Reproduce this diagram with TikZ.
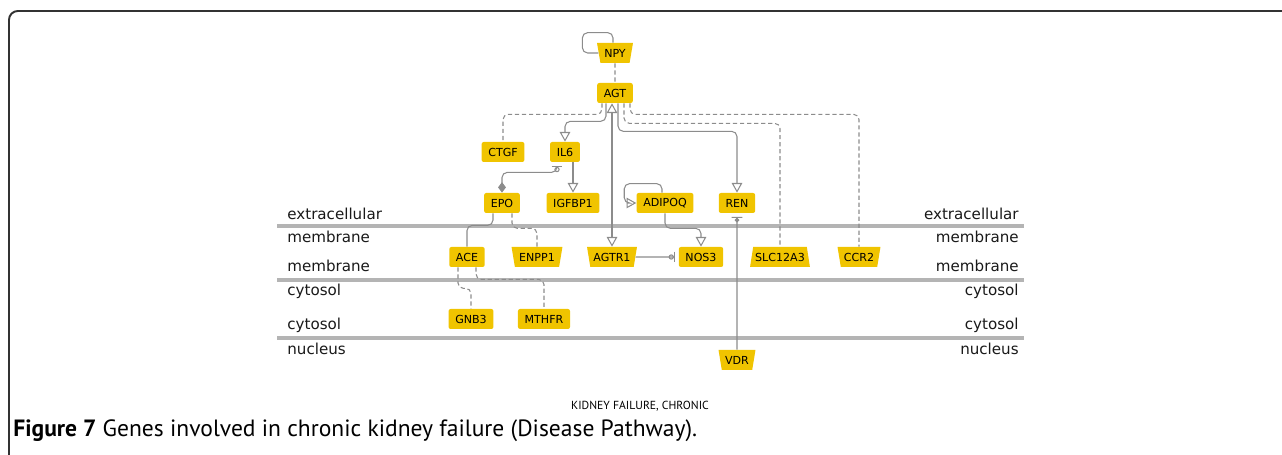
\documentclass[tikz,border=0pt]{standalone}
\usepackage{fontspec}
\setmainfont{DejaVu Sans}
\newfontfamily\capfont{PT Sans}
\usetikzlibrary{shapes.geometric,arrows.meta,calc}

\definecolor{genegold}{RGB}{240,196,0}
\definecolor{linkgray}{RGB}{140,140,140}
\definecolor{layergray}{RGB}{180,180,180}
\definecolor{framegray}{RGB}{50,50,50}

\begin{document}
\begin{tikzpicture}
[
    x=0.02cm, y=-0.02cm,
    gene/.style={fill=genegold, rounded corners=1.2pt, inner xsep=3.8pt,
        inner ysep=0pt, minimum height=0.4cm,
        font=\fontsize{6.3}{7}\selectfont, text=black},
    receptor/.style={gene, sharp corners, trapezium, trapezium stretches=true,
        trapezium left angle=70, trapezium right angle=70, inner xsep=1pt},
    cupgene/.style={receptor, shape border rotate=180},
    link/.style={draw=linkgray, line width=0.6pt, rounded corners=3pt},
    dashlink/.style={link, dash pattern=on 2.4pt off 1.6pt},
    opentip/.style={-{Triangle[open,width=6pt,length=5.5pt]}},
    inhibit/.style={-{Circle[open,length=3pt,width=3pt] Bar[width=6pt]}, shorten >=2pt},
    dotbar/.style={-{Circle[length=2.5pt,width=2.5pt] Bar[width=6pt]}, shorten >=2pt},
    layer/.style={draw=layergray, line width=2.3pt},
    layertext/.style={font=\fontsize{8.6}{10}\selectfont, inner sep=0pt, text=black!90},
]
\useasboundingbox (0,0) rectangle (1282,455);

% Frame
\draw[framegray, line width=1.1pt, rounded corners=5pt] (9,470) -- (9,11) -- (1300,11);

% Compartment lines
\foreach \y in {226,280,338}
    \draw[layer] (277,\y) -- (1024,\y);

% Compartment labels
\foreach \y/\name in {220/extracellular, 243/membrane, 272/membrane,
                      296/cytosol, 330/cytosol, 355/nucleus}
{
    \node[layertext, anchor=base west] at (287,\y) {\name};
    \node[layertext, anchor=base east] at (1019,\y) {\name};
}

% Genes
\node[cupgene, minimum width=0.72cm] (npy) at (615,53) {NPY};
\node[gene] (agt) at (615,93) {AGT};
\node[gene] (ctgf) at (503,152) {CTGF};
\node[gene] (il6) at (565,152) {IL6};
\node[gene] (epo) at (502,203) {EPO};
\node[gene] (igfbp1) at (573,203) {IGFBP1};
\node[gene] (adipoq) at (665,203) {ADIPOQ};
\node[gene] (ren) at (737,203) {REN};
\node[gene] (ace) at (467,257) {ACE};
\node[cupgene, minimum width=1.02cm] (enpp1) at (537,257) {ENPP1};
\node[cupgene, minimum width=1.0cm] (agtr1) at (612,257) {AGTR1};
\node[gene] (nos3) at (701,257) {NOS3};
\node[receptor, minimum width=1.2cm] (slc12a3) at (780,257) {SLC12A3};
\node[cupgene, minimum width=0.86cm] (ccr2) at (859,257) {CCR2};
\node[gene] (gnb3) at (471,319) {GNB3};
\node[gene] (mthfr) at (544,319) {MTHFR};
\node[cupgene, minimum width=0.74cm] (vdr) at (737,360) {VDR};

% Links
\draw[link] ($(npy.north)+(-2,0)$) -- ++(0,-10) -| ($(npy.west)+(-16,0)$) -- (npy.west);
\draw[dashlink] (npy.south) -- (agt.north);
\draw[dashlink] ($(agt.south)+(-13,0)$) -- ++(0,11) -| (ctgf.north);
\draw[link, opentip] ($(agt.south)+(-9,0)$) -- ++(0,18) -| (il6.north);
\draw[link, {Triangle[open,width=6pt,length=5.5pt]}-{Triangle[open,width=6pt,length=5.5pt]}]
    (agtr1.north |- agt.south) -- (agtr1.north);
\draw[link, opentip] ($(agt.south)+(3,0)$) -- ++(0,28) -| (ren.north);
\draw[dashlink] ($(agt.south)+(9,0)$) -- ++(0,20) -| (slc12a3.north);
\draw[dashlink] ($(agt.south)+(15,0)$) -- ++(0,11) -| (ccr2.north);
\draw[link, opentip] (igfbp1.north |- il6.south) -- (igfbp1.north);
\draw[link, {Diamond[length=6pt,width=4.5pt]}-{Circle[open,length=3pt,width=3pt] Bar[width=6pt]}, shorten >=2pt]
    (epo.north) |- ($(il6.south)+(-8,10)$) -- ($(il6.south)+(-8,0)$);
\draw[link, opentip] ($(adipoq.north)+(-3,0)$) -- ++(0,-9) -| ($(adipoq.west)+(-12,0)$) -- (adipoq.west);
\draw[link, opentip] (adipoq.south) -- ++(0,15) -| (nos3.north);
\draw[link] ($(epo.south)+(-9,0)$) -- ++(0,12) -| (ace.north);
\draw[dashlink] ($(epo.south)+(10,0)$) -- ++(0,15) -| (enpp1.north);
\draw[link, inhibit] (agtr1.east) -- (nos3.west);
\draw[dashlink] ($(ace.south)+(-9,0)$) -- ++(0,21) -| (gnb3.north);
\draw[dashlink] ($(ace.south)+(9,0)$) -- ++(0,12) -| (mthfr.north);
\draw[link, dotbar] (vdr.north) -- (ren.south);

% Titles
\node[font=\capfont\fontsize{6.65}{7}\selectfont] (title) at (640,406) {KIDNEY FAILURE, CHRONIC};
\node[font=\capfont\fontsize{13.4}{15}\selectfont, anchor=base west, inner sep=0pt] (caption)
    at (13,437) {\textbf{Figure 7} Genes involved in chronic kidney failure (Disease Pathway).};
\end{tikzpicture}
\end{document}
